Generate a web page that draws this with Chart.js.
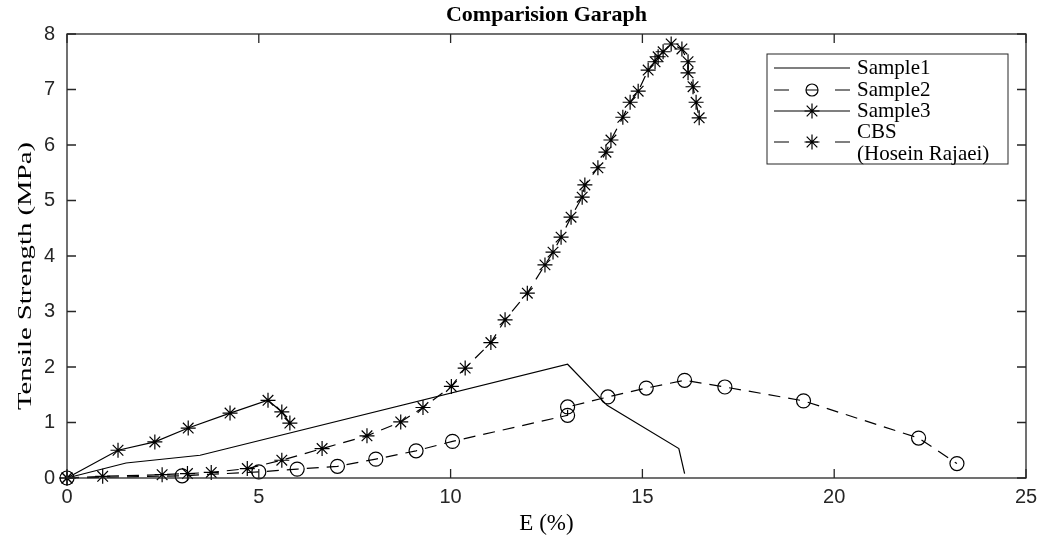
<!DOCTYPE html>
<html>
<head>
<meta charset="utf-8">
<script src="https://cdn.jsdelivr.net/npm/chart.js@4.4.1/dist/chart.umd.min.js"></script>
<style>
  html, body { margin: 0; padding: 0; background: #fff; }
</style>
</head>
<body>
<canvas id="chart" width="1053" height="539"></canvas>
<script>
// values (E in %, strength in MPa)
const sample1E = [0, 1.54, 3.47, 13.05, 14.08, 15.95, 16.1];
const sample1S = [0, 0.27, 0.41, 2.05, 1.31, 0.53, 0.08];

const sample2E = [0, 3, 5, 6, 7.05, 8.05, 9.1, 10.05, 13.05, 13.05, 14.1, 15.1, 16.1, 17.15, 19.2, 22.2, 23.2];
const sample2S = [0, 0.04, 0.11, 0.16, 0.21, 0.34, 0.49, 0.66, 1.13, 1.28, 1.46, 1.62, 1.76, 1.64, 1.39, 0.72, 0.26];

const sample3E = [0, 1.33, 2.29, 3.16, 4.25, 5.24, 5.6, 5.81];
const sample3S = [0, 0.5, 0.65, 0.9, 1.17, 1.4, 1.19, 0.99];

const cbsE = [0, 0.93, 2.48, 3.14, 3.76, 4.7, 5.6, 6.65, 7.82, 8.7, 9.28, 10.02, 10.38, 11.05, 11.42, 12.0, 12.46,
  12.67, 12.88, 13.14, 13.43, 13.5, 13.84, 14.05, 14.18, 14.49, 14.68, 14.89, 15.15, 15.33, 15.41, 15.54,
  15.75, 16.03, 16.19, 16.19, 16.32, 16.4, 16.48];
const cbsS = [0, 0.03, 0.06, 0.08, 0.1, 0.17, 0.32, 0.53, 0.76, 1.01, 1.27, 1.65, 1.98, 2.44, 2.85, 3.33, 3.84,
  4.07, 4.34, 4.7, 5.06, 5.28, 5.59, 5.87, 6.09, 6.5, 6.77, 6.97, 7.35, 7.5, 7.59, 7.68,
  7.82, 7.73, 7.5, 7.3, 7.05, 6.77, 6.49];

const xTicks = [0, 5, 10, 15, 20, 25];
const yTicks = [0, 1, 2, 3, 4, 5, 6, 7, 8];

const seriesNames = ['Sample1', 'Sample2', 'Sample3', ['CBS', '(Hosein Rajaei)']];
const chartTitle = 'Comparision Garaph';
const yTitle = 'Tensile Strength (MPa)';

const serif = '"Liberation Serif", "Times New Roman", serif';
const sans = '"Liberation Sans", Arial, sans-serif';
const ink = '#000';
const axisInk = '#262626';

const pts = (xs, ys) => xs.map((v, i) => ({ x: v, y: ys[i] }));

const common = {
  showLine: true,
  tension: 0,
  borderColor: ink,
  borderWidth: 1.2,
  pointBorderColor: ink,
  pointBackgroundColor: 'rgba(0,0,0,0)',
  pointBorderWidth: 1.2,
  clip: false
};

// box round the axes with inward ticks, like matlab, plus the titles
const framePlugin = {
  id: 'frame',
  afterDatasetsDraw(chart) {
    const { ctx, chartArea: a, scales: { x, y } } = chart;
    ctx.save();
    ctx.strokeStyle = axisInk;
    ctx.lineWidth = 1.3;
    ctx.strokeRect(a.left, a.top, a.right - a.left, a.bottom - a.top);
    ctx.beginPath();
    xTicks.forEach(v => {
      const px = x.getPixelForValue(v);
      ctx.moveTo(px, a.bottom); ctx.lineTo(px, a.bottom - 9);
      ctx.moveTo(px, a.top); ctx.lineTo(px, a.top + 9);
    });
    yTicks.forEach(v => {
      const py = y.getPixelForValue(v);
      ctx.moveTo(a.left, py); ctx.lineTo(a.left + 9, py);
      ctx.moveTo(a.right, py); ctx.lineTo(a.right - 9, py);
    });
    ctx.stroke();

    // title centred over the plot box
    ctx.fillStyle = ink;
    ctx.textAlign = 'center';
    ctx.textBaseline = 'middle';
    ctx.font = 'bold 22px ' + serif;
    ctx.fillText(chartTitle, (a.left + a.right) / 2, a.top - 19);

    // y axis title, drawn stretched along its length as in the picture
    ctx.font = '18px ' + serif;
    const len = ctx.measureText(yTitle).width;
    ctx.translate(26, 276);
    ctx.rotate(-Math.PI / 2);
    ctx.scale(268 / len, 1);
    ctx.fillText(yTitle, 0, 0);
    ctx.restore();
  }
};

// legend drawn by hand because of the two-line CBS label
const legendPlugin = {
  id: 'boxLegend',
  afterDraw(chart) {
    const { ctx, chartArea: a } = chart;
    const left = a.right - 259, top = a.top + 20, w = 241, h = 110;
    ctx.save();
    ctx.fillStyle = '#fff';
    ctx.fillRect(left, top, w, h);
    ctx.strokeStyle = axisInk;
    ctx.lineWidth = 1;
    ctx.strokeRect(left, top, w, h);

    const rowsY = [14, 36, 57, 88];
    chart.data.datasets.forEach((ds, i) => {
      const cy = top + rowsY[i];
      const x0 = left + 7, x1 = left + 83, xm = (x0 + x1) / 2;
      ctx.save();
      ctx.strokeStyle = ds.borderColor;
      ctx.lineWidth = ds.borderWidth;
      ctx.beginPath();
      if (ds.borderDash) {
        ctx.moveTo(x0, cy); ctx.lineTo(x0 + 15, cy);
        ctx.moveTo(xm - 6, cy); ctx.lineTo(xm + 6, cy);
        ctx.moveTo(x1 - 15, cy); ctx.lineTo(x1, cy);
      } else {
        ctx.moveTo(x0, cy); ctx.lineTo(x1, cy);
      }
      ctx.stroke();
      if (ds.pointRadius > 0) {
        ctx.fillStyle = 'rgba(0,0,0,0)';
        ctx.strokeStyle = ds.pointBorderColor;
        ctx.lineWidth = ds.pointBorderWidth;
        Chart.helpers.drawPoint(ctx, {
          pointStyle: ds.pointStyle,
          radius: ds.pointStyle === 'circle' ? 6 : ds.pointRadius,
          borderWidth: ds.pointBorderWidth,
          rotation: 0
        }, xm, cy);
      }
      ctx.restore();

      ctx.font = '21px ' + serif;
      ctx.fillStyle = ink;
      ctx.textBaseline = 'middle';
      ctx.textAlign = 'left';
      const name = seriesNames[i];
      const tx = left + 90;
      if (Array.isArray(name)) {
        ctx.fillText(name[0], tx, cy - 10);
        ctx.fillText(name[1], tx, cy + 12);
      } else {
        ctx.fillText(name, tx, cy);
      }
    });
    ctx.restore();
  }
};

const chart = new Chart(document.getElementById('chart').getContext('2d'), {
  type: 'scatter',
  data: {
    datasets: [
      Object.assign({}, common, {
        label: 'Sample1',
        data: pts(sample1E, sample1S),
        pointRadius: 0
      }),
      Object.assign({}, common, {
        label: 'Sample2',
        data: pts(sample2E, sample2S),
        borderDash: [12, 8],
        pointStyle: 'circle',
        pointRadius: 7
      }),
      Object.assign({}, common, {
        label: 'Sample3',
        data: pts(sample3E, sample3S),
        pointStyle: 'star',
        pointRadius: 7.5
      }),
      Object.assign({}, common, {
        label: 'CBS (Hosein Rajaei)',
        data: pts(cbsE, cbsS),
        borderDash: [12, 8],
        pointStyle: 'star',
        pointRadius: 7.5
      })
    ]
  },
  options: {
    responsive: false,
    animation: false,
    events: [],
    layout: { padding: { left: 0, right: 27, top: 34, bottom: 0 } },
    plugins: {
      legend: { display: false },
      tooltip: { enabled: false },
      title: { display: false }
    },
    scales: {
      x: {
        type: 'linear',
        min: 0,
        max: 25,
        afterBuildTicks: s => { s.ticks = xTicks.map(v => ({ value: v })); },
        afterFit: s => { s.height = 61; },
        grid: { display: false, drawTicks: false },
        border: { display: false },
        ticks: { color: axisInk, font: { family: sans, size: 20 }, padding: 7, maxRotation: 0 },
        title: {
          display: true,
          text: 'E (%)',
          color: ink,
          font: { family: serif, size: 23 },
          padding: { top: 0, bottom: 1 }
        }
      },
      y: {
        type: 'linear',
        min: 0,
        max: 8,
        afterBuildTicks: s => { s.ticks = yTicks.map(v => ({ value: v })); },
        afterFit: s => { s.width = 67; },
        grid: { display: false, drawTicks: false },
        border: { display: false },
        ticks: { color: axisInk, font: { family: sans, size: 20 }, padding: 12 }
      }
    }
  },
  plugins: [framePlugin, legendPlugin]
});
</script>
</body>
</html>
